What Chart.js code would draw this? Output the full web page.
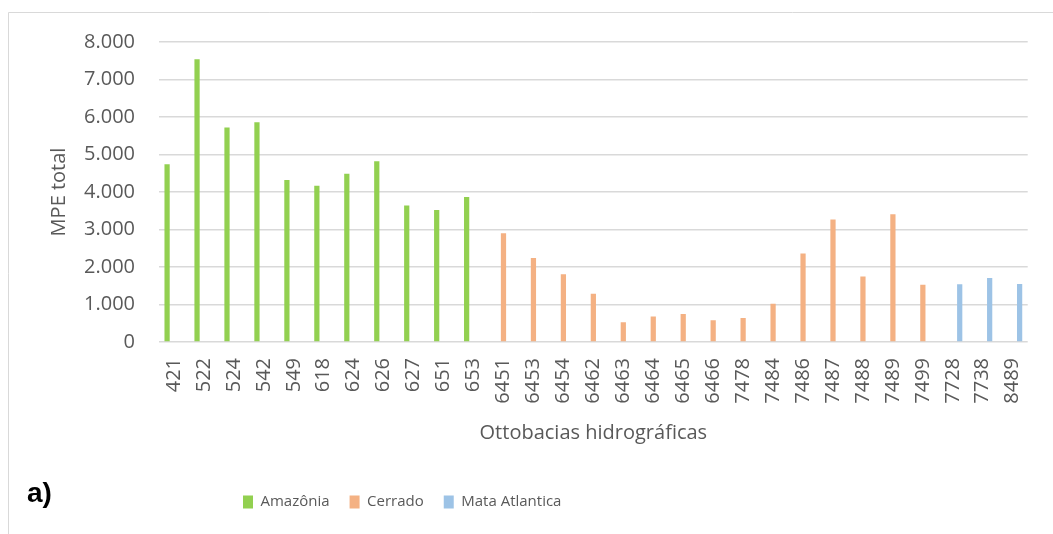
<!DOCTYPE html>
<html>
<head>
<meta charset="utf-8">
<title>MPE total por ottobacia</title>
<script src="https://cdn.jsdelivr.net/npm/chart.js@4/dist/chart.umd.min.js"></script>
<style>
    html, body { margin: 0; padding: 0; background: #ffffff; }
    #wrap { width: 1053px; height: 534px; position: relative; }
</style>
</head>
<body>
<div id="wrap"><canvas id="mpeChart"></canvas></div>
<script>
// Ottobacias by biome and their MPE totals
const amazoniaBasins = ["421", "522", "524", "542", "549", "618", "624", "626", "627", "651", "653"];
const amazoniaMpe = [4740, 7540, 5720, 5860, 4320, 4170, 4490, 4820, 3640, 3520, 3870];

const cerradoBasins = ["6451", "6453", "6454", "6462", "6463", "6464", "6465", "6466", "7478", "7484", "7486", "7487", "7488", "7489", "7499"];
const cerradoMpe = [2900, 2240, 1810, 1290, 530, 680, 750, 580, 640, 1020, 2360, 3270, 1750, 3410, 1530];

const mataBasins = ["7728", "7738", "8489"];
const mataMpe = [1540, 1710, 1550];

const yTicks = [0, 1000, 2000, 3000, 4000, 5000, 6000, 7000, 8000];

const categories = [...amazoniaBasins, ...cerradoBasins, ...mataBasins];

// one value per category, null where the basin belongs to another biome
function spread(basins, values) {
    return categories.map(c => {
        const i = basins.indexOf(c);
        return i >= 0 ? values[i] : null;
    });
}

const textColor = "#595959";
const gridColor = "#d9d9d9";
const fontFamily = "'Open Sans', sans-serif";

function fmtThousands(v) {
    return String(v).replace(/\B(?=(\d{3})+(?!\d))/g, ".");
}

// frame, "a)" label and legend placement
const framePlugin = {
    id: "frame",
    beforeDraw(chart) {
        const ctx = chart.ctx;
        ctx.save();
        ctx.fillStyle = "#ffffff";
        ctx.fillRect(0, 0, chart.width, chart.height);
        ctx.strokeStyle = gridColor;
        ctx.lineWidth = 1;
        ctx.beginPath();
        ctx.moveTo(8.5, chart.height + 1);
        ctx.lineTo(8.5, 12.5);
        ctx.lineTo(chart.width + 1, 12.5);
        ctx.stroke();
        ctx.restore();
    },
    afterLayout(chart) {
        const lg = chart.legend;
        if (!lg) return;
        const w = lg.width, h = lg.height;
        lg.left = 223;
        lg.right = 223 + w;
        lg.top = 474.5;
        lg.bottom = 474.5 + h;
    },
    afterDraw(chart) {
        const ctx = chart.ctx;
        ctx.save();
        ctx.fillStyle = "#000000";
        ctx.font = "bold 28px 'Liberation Sans', Arial, sans-serif";
        ctx.textBaseline = "alphabetic";
        ctx.fillText("a)", 27, 502);
        ctx.restore();
    }
};

const ctx = document.getElementById("mpeChart");

new Chart(ctx, {
    type: "bar",
    data: {
        labels: categories,
        datasets: [
            {
                label: "Amazônia",
                data: spread(amazoniaBasins, amazoniaMpe),
                backgroundColor: "#92d050",
                borderWidth: 0
            },
            {
                label: "Cerrado",
                data: spread(cerradoBasins, cerradoMpe),
                backgroundColor: "#f4b183",
                borderWidth: 0
            },
            {
                label: "Mata Atlantica",
                data: spread(mataBasins, mataMpe),
                backgroundColor: "#9dc3e6",
                borderWidth: 0
            }
        ]
    },
    options: {
        responsive: true,
        maintainAspectRatio: false,
        animation: false,
        categoryPercentage: 0.69,
        barPercentage: 0.76,
        layout: {
            padding: { left: 0, right: 16, top: 42, bottom: 44 }
        },
        scales: {
            x: {
                grid: { display: false, drawTicks: false },
                border: { display: false },
                ticks: {
                    color: textColor,
                    font: { family: fontFamily, size: 20 },
                    minRotation: 90,
                    maxRotation: 90,
                    autoSkip: false,
                    padding: 16
                },
                title: {
                    display: true,
                    text: "Ottobacias hidrográficas",
                    color: textColor,
                    font: { family: fontFamily, size: 20 },
                    padding: { top: 0, bottom: 0 }
                },
                afterFit(scale) {
                    scale.height = 103;
                }
            },
            y: {
                min: 0,
                max: 8000,
                afterBuildTicks(scale) {
                    scale.ticks = yTicks.map(v => ({ value: v }));
                },
                grid: { color: gridColor, lineWidth: 1.5, drawTicks: false },
                border: { display: false },
                ticks: {
                    color: textColor,
                    font: { family: fontFamily, size: 20 },
                    padding: 24,
                    callback: v => fmtThousands(v)
                },
                title: {
                    display: true,
                    text: "MPE total",
                    color: textColor,
                    font: { family: fontFamily, size: 20 },
                    padding: { top: 47, bottom: 0 }
                },
                afterFit(scale) {
                    scale.width = 159;
                }
            }
        },
        plugins: {
            legend: {
                position: "bottom",
                align: "start",
                labels: {
                    color: textColor,
                    font: { family: fontFamily, size: 15 },
                    boxWidth: 10,
                    boxHeight: 13,
                    padding: 20
                }
            },
            tooltip: { enabled: false }
        }
    },
    plugins: [framePlugin]
});
</script>
</body>
</html>
